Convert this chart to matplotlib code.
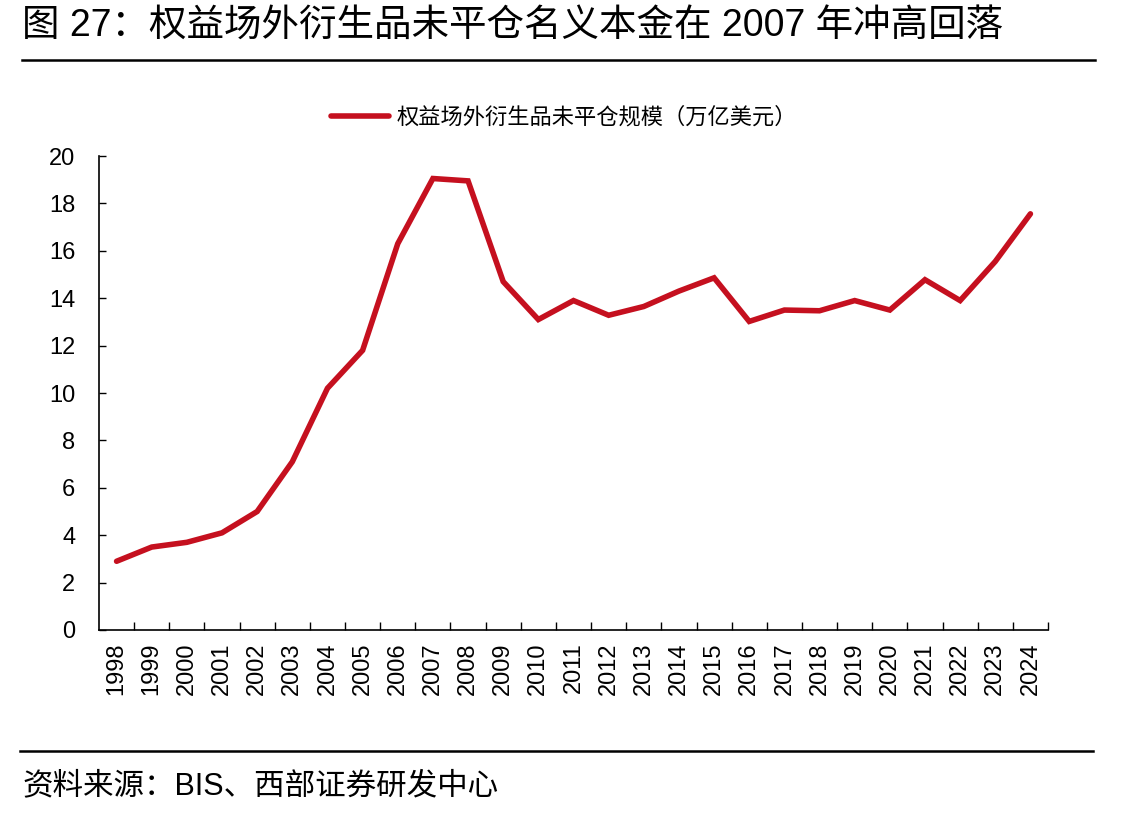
import matplotlib
matplotlib.use("Agg")
import matplotlib.pyplot as plt
from matplotlib.lines import Line2D
import numpy as np

years = [str(y) for y in range(1998, 2025)]
values = [2.9, 3.5, 3.7, 4.1, 5.0, 7.1, 10.2, 11.8, 16.3, 19.05, 18.95, 14.7, 13.1,
          13.9, 13.28, 13.65, 14.3, 14.86, 13.02, 13.5, 13.47, 13.9, 13.5, 14.78,
          13.9, 15.55, 17.56]
series_name = "权益场外衍生品未平仓规模（万亿美元）"
title = "图 27：权益场外衍生品未平仓名义本金在 2007 年冲高回落"
source = "资料来源：BIS、西部证券研发中心"
yticks = [0, 2, 4, 6, 8, 10, 12, 14, 16, 18, 20]

W, H = 1144, 818
fam = ['Liberation Sans', 'Noto Sans CJK SC', 'DejaVu Sans']
plt.rcParams['font.family'] = fam
red = '#C5101F'

fig = plt.figure(figsize=(W / 100, H / 100), dpi=100)
ax = fig.add_axes([99 / W, 1 - 630 / H, (1048 - 99) / W, (630 - 156) / H])

x = np.arange(len(years))
ax.plot(x, values, color=red, lw=4.0, solid_joinstyle='miter', solid_capstyle='round',
        label=series_name)

ax.set_xlim(-0.5, len(years) - 0.5)
ax.set_ylim(0, 20)
ax.set_yticks(yticks)
ax.set_yticklabels([str(t) for t in yticks], fontsize=17)
ax.tick_params(axis='y', direction='in', length=5, width=1, pad=17)

ax.set_xticks(x)
ax.set_xticklabels(years, rotation=90, fontsize=17)
ax.tick_params(axis='x', which='major', length=0, pad=9)
ax.set_xticks(np.arange(0.5, len(years)), minor=True)
ax.tick_params(axis='x', which='minor', direction='in', length=6, width=1)

for s in ['top', 'right']:
    ax.spines[s].set_visible(False)
for s in ['left', 'bottom']:
    ax.spines[s].set_linewidth(1.2)

leg = fig.legend(handles=[Line2D([0], [0], color=red, lw=4.0, solid_capstyle='round')],
                 labels=[series_name],
                 loc='center', bbox_to_anchor=(564 / W, 1 - 117 / H), frameon=False,
                 prop={'family': ['Noto Sans CJK SC'], 'size': 16}, handlelength=2.6,
                 handletextpad=0.35)

fig.text(22 / W, 1 - 26 / H, title, fontsize=27, va='center', ha='left', family=fam)
fig.add_artist(Line2D([22 / W, 1095 / W], [1 - 60 / H, 1 - 60 / H], color='black', lw=1.8))
fig.add_artist(Line2D([20 / W, 1093 / W], [1 - 751 / H, 1 - 751 / H], color='black', lw=1.8))
fig.text(22 / W, 1 - 786 / H, source, fontsize=22, va='center', ha='left', family=fam)

fig.savefig("out.png", dpi=100)
